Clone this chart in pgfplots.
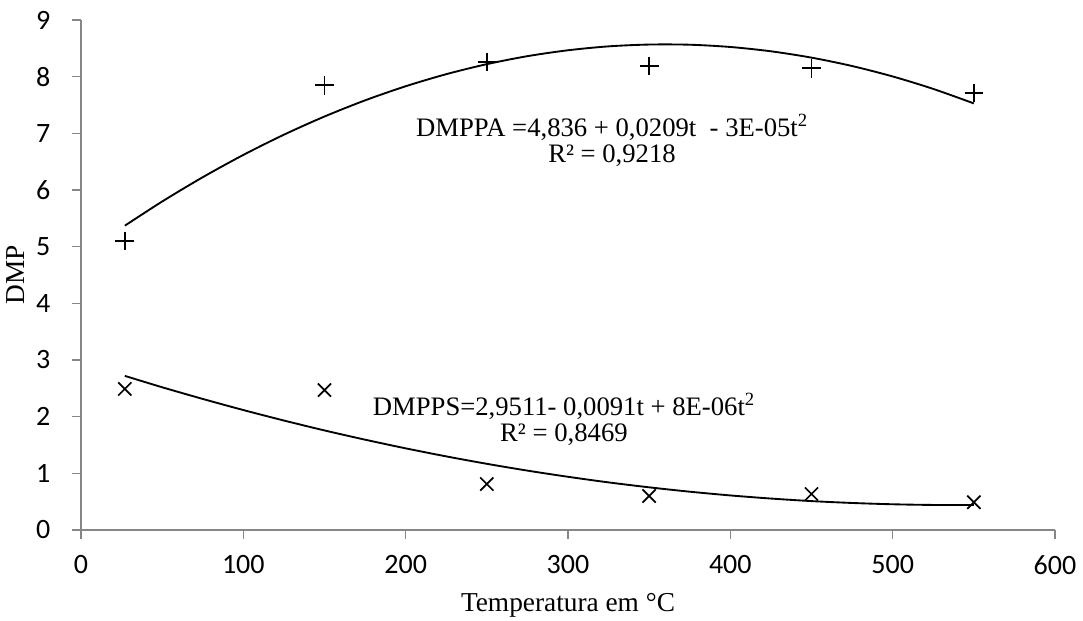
\documentclass[border=0pt]{standalone}
\usepackage{pgfplots}
\pgfplotsset{compat=1.18}
\usepackage{fontspec}
\setmainfont{Liberation Serif}
\newfontfamily\tickfont{Carlito}
\definecolor{axgray}{RGB}{134,134,134}
\begin{document}
\begin{tikzpicture}
\begin{axis}[
  name=ax, at={(0,0)}, anchor=south west,
  scale only axis, width=730.5pt, height=382.5pt,
  xmin=0, xmax=600, ymin=0, ymax=9,
  xtick={0,100,...,600}, ytick={0,1,...,9},
  axis lines*=left,
  axis line style={axgray, line width=1.1pt, -},
  tick style={axgray, line width=1.1pt},
  tick align=outside, major tick length=6.5pt,
  ticklabel style={font=\tickfont\fontsize{21}{24}\selectfont},
  /pgf/number format/assume math mode=true,
  xticklabel style={yshift=-9pt},
  yticklabel style={xshift=-13pt},
  xlabel={Temperatura em °C}, ylabel={DMP},
  label style={font=\fontsize{20.5}{23}\selectfont},
  xlabel style={yshift=-7pt},
  ylabel style={yshift=1.5pt},
  clip=false,
]
\addplot[only marks, mark=+, mark size=7pt, mark options={line width=1.3pt, black}] coordinates {
 (27,5.10) (150,7.85) (250,8.26) (350,8.19) (450,8.15) (550,7.71)};
\addplot[only marks, mark=x, mark size=7pt, mark options={line width=1.3pt, black}] coordinates {
 (27,2.49) (150,2.47) (250,0.81) (350,0.60) (450,0.635) (550,0.49)};
\addplot[black, line width=1.4pt, smooth, no marks] coordinates {
 (27,5.37) (50,5.797) (75,6.226) (100,6.619) (125,6.976) (150,7.297) (175,7.582)
 (200,7.831) (225,8.044) (250,8.221) (275,8.362) (300,8.466) (325,8.535) (350,8.567)
 (375,8.564) (400,8.524) (425,8.448) (450,8.336) (475,8.188) (500,8.004) (525,7.784) (550,7.528)};
\addplot[black, line width=1.4pt, smooth, no marks] coordinates {
 (27,2.72) (50,2.519) (75,2.313) (100,2.117) (125,1.932) (150,1.757) (175,1.594)
 (200,1.441) (225,1.299) (250,1.168) (275,1.048) (300,0.939) (325,0.840) (350,0.753)
 (375,0.676) (400,0.610) (425,0.555) (450,0.510) (475,0.477) (500,0.454) (525,0.442) (550,0.441)};
\node[inner sep=0pt, font=\fontsize{20}{22}\selectfont] at (axis cs:327.1,7.10)
  {DMPPA =4,836 + 0,0209t \ - 3E-05t\textsuperscript{2}};
\node[inner sep=0pt, font=\fontsize{20}{22}\selectfont] at (axis cs:327.1,6.60)
  {R² = 0,9218};
\node[inner sep=0pt, font=\fontsize{20}{22}\selectfont] at (axis cs:297.5,2.19)
  {DMPPS=2,9511- 0,0091t + 8E-06t\textsuperscript{2}};
\node[inner sep=0pt, font=\fontsize{20}{22}\selectfont] at (axis cs:297.5,1.69)
  {R² = 0,8469};
\end{axis}
\pgfresetboundingbox
\path[use as bounding box] (-60.75pt,-68.25pt) rectangle (751.5pt,397.5pt);
\end{tikzpicture}
\end{document}
